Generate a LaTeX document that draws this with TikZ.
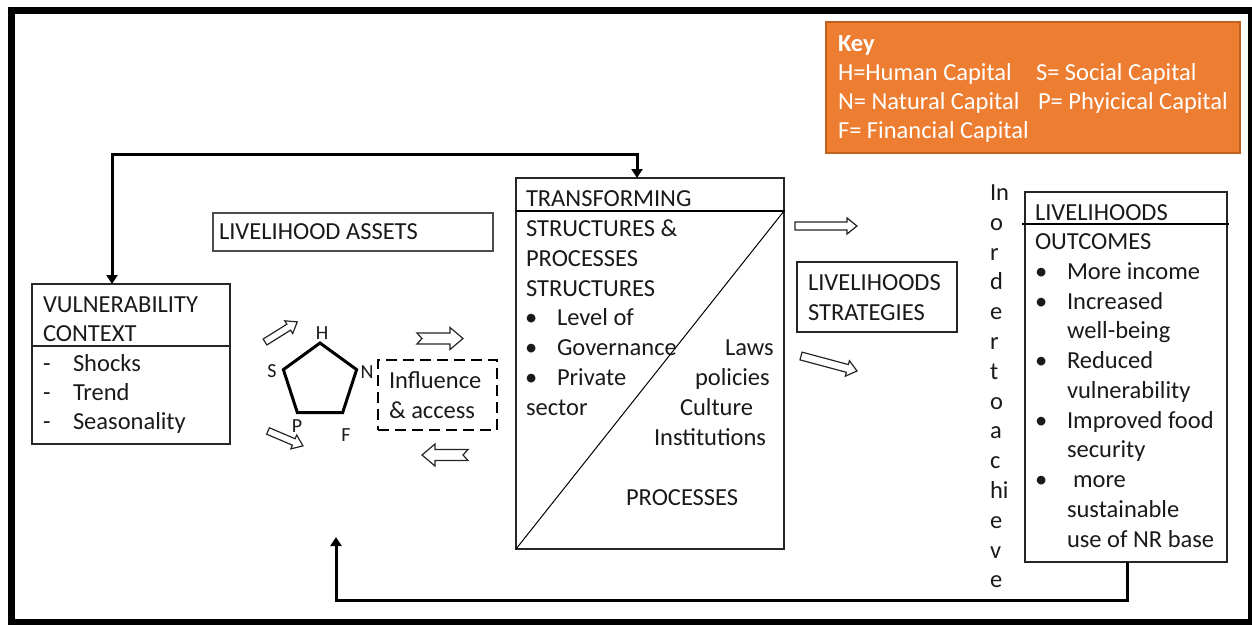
\documentclass[tikz,border=0pt]{standalone}
\usepackage{fontspec}
\setmainfont{Carlito}
\usetikzlibrary{arrows.meta,shapes.geometric}

\definecolor{keyorange}{HTML}{ED7D31}
\definecolor{keyedge}{HTML}{C0621F}
\definecolor{ink}{HTML}{1A1A1A}

\begin{document}
\begin{tikzpicture}[x=1pt,y=-1pt,
  frame/.style={draw=black!85, line width=1.2pt, inner sep=0pt, outer sep=0pt, anchor=north west},
  txt/.style={anchor=base west, inner sep=0pt, outer sep=0pt, text=ink, font=\fontsize{24.5}{30}\selectfont},
  keytxt/.style={txt, text=white},
  lbl/.style={inner sep=0pt, text=ink, font=\fontsize{20}{24}\selectfont},
  divider/.style={draw=black, line width=1.8pt},
  feedback/.style={line width=3pt, line join=miter},
  pics/blockarrow/.style args={#1/#2/#3/#4/#5}{code={
    \draw[line width=1.2pt, draw=black!85, fill=white, line join=miter]
      (0,-#2) -- ({#1-#4},-#2) -- ({#1-#4},-#3) -- (#1,0) -- ({#1-#4},#3)
      -- ({#1-#4},#2) -- (0,#2) -- (#5,0) -- cycle;}}
]
\useasboundingbox (0,0) rectangle (1252,624);
\fill[white] (0,0) rectangle (1252,624);

% outer frame
\draw[line width=7pt] (11.5,10.5) rectangle (1251.5,622);

% key
\node[frame, fill=keyorange, draw=keyedge, minimum width=414pt, minimum height=131pt] (key) at (826,22) {};
\node[keytxt, font=\fontsize{24.5}{30}\selectfont\bfseries] (keyhead) at (838,51) {Key};
\node[keytxt] (kh) at (838,80.5) {H=Human Capital};
\node[keytxt] (ks) at (1036,80.5) {S= Social Capital};
\node[keytxt] (kn) at (838,109.5) {N= Natural Capital};
\node[keytxt] (kp) at (1038,109.5) {P= Phyicical Capital};
\node[keytxt] (kf) at (838,138.5) {F= Financial Capital};

% vulnerability context
\node[frame, minimum width=198pt, minimum height=160pt] (vul) at (32,284) {};
\draw[draw=black!85, line width=1.2pt] (32,346) -- (230,346);
\node[txt] (vul1) at (43,312) {VULNERABILITY};
\node[txt] (vul2) at (43,341) {CONTEXT};
\node[txt] (d1) at (43,371) {-};
\node[txt] (d2) at (43,400) {-};
\node[txt] (d3) at (43,429) {-};
\node[txt] (shocks) at (73,371) {Shocks};
\node[txt] (trend) at (73,400) {Trend};
\node[txt] (season) at (73,429) {Seasonality};

% livelihood assets
\node[frame, draw=black!70, minimum width=280pt, minimum height=38pt] (assets) at (213,213) {};
\node[txt] (assetst) at (219,239) {LIVELIHOOD ASSETS};

% asset pentagon
\node[regular polygon, regular polygon sides=5, draw=black, line width=3pt,
      minimum size=77pt, inner sep=0pt, outer sep=0pt] (pent) at (320,381.5) {};
\node[lbl] (lh) at (322,333) {H};
\node[lbl] (ls) at (272,371) {S};
\node[lbl] (ln) at (367,372) {N};
\node[lbl] (lp) at (297,426) {P};
\node[lbl] (lf) at (346,435) {F};

% influence & access
\node[frame, draw=black, line width=2.6pt, dash pattern=on 11pt off 6pt,
      minimum width=119pt, minimum height=70pt] (infl) at (378,360) {};
\node[txt] (infl1) at (389,388) {Influence};
\node[txt] (infl2) at (389,418) {\& access};

% block arrows
\pic[rotate=32] at (265,342) {blockarrow=38/3.5/7.5/10/0};
\pic[rotate=-23] at (268,431) {blockarrow=38/3.5/7.5/10/0};
\pic at (417,338.5) {blockarrow=46/5.5/11/13/5};
\pic[rotate=180] at (468,455) {blockarrow=46/5.5/11/13/5};
\pic at (795,226) {blockarrow=62/4/8/10/0};
\pic[rotate=-15] at (801,356) {blockarrow=58/4/8/10/0};

% transforming structures & processes
\node[frame, minimum width=268pt, minimum height=371pt] (trans) at (516,178) {};
\draw[divider] (516,211) -- (785,211);
\draw[line width=1pt] (trans.south west) -- (784,211);
\node[txt] (t1) at (526,206) {TRANSFORMING};
\node[txt] (t2) at (526,236) {STRUCTURES \&};
\node[txt] (t3) at (526,266) {PROCESSES};
\node[txt] (t4) at (526,296) {STRUCTURES};
\node[txt] (tb1) at (525,325.5) {•};
\node[txt] (tb2) at (525,355) {•};
\node[txt] (tb3) at (525,385) {•};
\node[txt] (t5) at (557,325.5) {Level of};
\node[txt] (t6) at (557,355) {Governance};
\node[txt] (t7) at (557,385) {Private};
\node[txt] (t8) at (526,415) {sector};
\node[txt] (t9) at (725,355) {Laws};
\node[txt] (t10) at (695,385) {policies};
\node[txt] (t11) at (680,415) {Culture};
\node[txt] (t12) at (654,445) {Institutions};
\node[txt] (t13) at (626,505) {PROCESSES};

% livelihood strategies
\node[frame, minimum width=160pt, minimum height=70pt] (strat) at (797,262) {};
\node[txt] (s1) at (808,290) {LIVELIHOODS};
\node[txt] (s2) at (808,320) {STRATEGIES};

% "In order to achieve", one piece per line
\foreach \ch [count=\i from 0] in {In,o,r,d,e,r,t,o,a,c,hi,e,v,e}
  \node[txt] (ach\i) at (990,{200.5+29.8*\i}) {\ch};

% livelihood outcomes
\node[frame, minimum width=202pt, minimum height=370pt] (outc) at (1025,192) {};
\draw[divider] (1022,224) -- (1229,224);
\node[txt] (o1) at (1035,220) {LIVELIHOODS};
\node[txt] (o2) at (1035,249) {OUTCOMES};
\foreach \yy [count=\j] in {279,309,368,428,487}
  \node[txt] (ob\j) at (1035,\yy) {•};
\node[txt] (o3) at (1067,279) {More income};
\node[txt] (o4) at (1067,309) {Increased};
\node[txt] (o5) at (1067,338) {well-being};
\node[txt] (o6) at (1067,368) {Reduced};
\node[txt] (o7) at (1067,398) {vulnerability};
\node[txt] (o8) at (1067,428) {Improved food};
\node[txt] (o9) at (1067,457) {security};
\node[txt] (o10) at (1073,487) {more};
\node[txt] (o11) at (1067,517) {sustainable};
\node[txt] (o12) at (1067,547) {use of NR base};

% feedback loops
\coordinate (upL) at (112,154);
\coordinate (upR) at (637,154);
\draw[feedback, arrows={Triangle[width=11pt,length=9pt]-Triangle[width=11pt,length=9pt]}]
  (vul.north -| upL) -- (upL) -- (upR) -- (trans.north -| upR);
\coordinate (lowR) at (1127,600);
\coordinate (lowL) at (336,600);
\coordinate (back) at (336,537);
\draw[feedback, arrows={-Triangle[width=11pt,length=9pt]}]
  (outc.south -| lowR) -- (lowR) -- (lowL) -- (back);
\end{tikzpicture}
\end{document}
